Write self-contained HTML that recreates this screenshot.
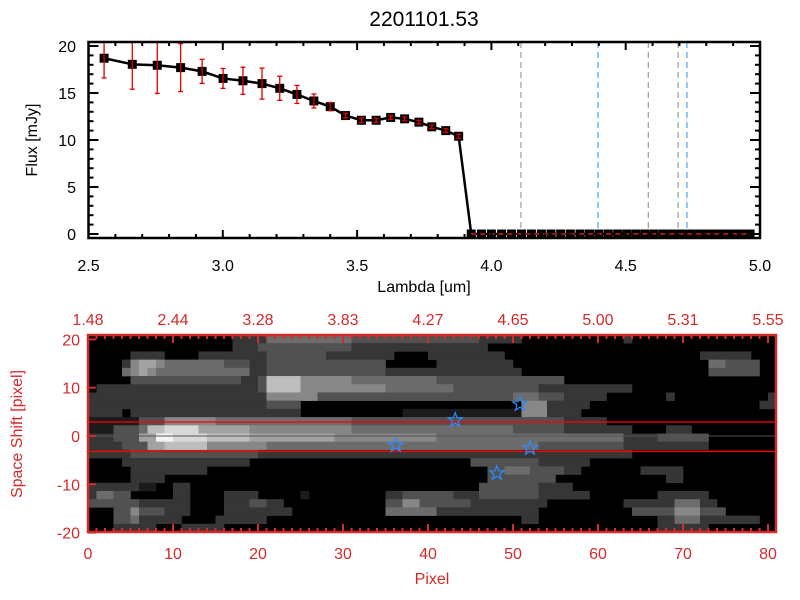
<!DOCTYPE html>
<html><head><meta charset="utf-8"><style>
html,body{margin:0;padding:0;background:#fff;}
svg{display:block;font-family:"Liberation Sans",sans-serif;}
</style></head><body>
<svg id="chart" width="800" height="600" viewBox="0 0 800 600" xmlns="http://www.w3.org/2000/svg">
<rect x="0" y="0" width="800" height="600" fill="#fff"/>
<text x="424" y="26" font-size="21" text-anchor="middle" fill="#000">2201101.53</text>
<g id="topplot"></g>
<g id="botplot"></g>
</svg>
<script>
// ---- top spectrum data ----
const lambdaPts = [2.558,2.663,2.756,2.843,2.923,3.001,3.075,3.146,3.212,3.276,3.339,3.400,3.457,3.516,3.571,3.625,3.677,3.730,3.778,3.830,3.878];
const fluxPts = [18.7,18.05,17.95,17.7,17.3,16.55,16.3,16.0,15.5,14.85,14.15,13.55,12.6,12.1,12.1,12.4,12.25,11.9,11.4,11.0,10.4];
const errPts = [2.1,2.65,3.0,2.55,1.28,1.06,1.44,1.65,1.28,0.96,0.74,0.44,0.25,0.25,0.22,0.2,0.2,0.2,0.2,0.2,0.2];
const lambdaZero = [3.925,3.963,4.000,4.038,4.075,4.112,4.149,4.186,4.222,4.258,4.294,4.330,4.365,4.400,4.435,4.470,4.504,4.538,4.572,4.606,4.640,4.673,4.706,4.739,4.772,4.804,4.836,4.868,4.900,4.932,4.963];
const greyLines = [4.11,4.584,4.695];
const blueLines = [4.397,4.728];
const topXTicks = [2.5,3.0,3.5,4.0,4.5,5.0];
const topYTicks = [0,5,10,15,20];

// ---- bottom image data ----
const topAxisLabels = ["1.48","2.44","3.28","3.83","4.27","4.65","5.00","5.31","5.55"];
const pixTicks = [0,10,20,30,40,50,60,70,80];
const shiftTicks = [20,10,0,-10,-20];
const starX = [43.2,36.2,50.8,52.0,48.1];
const starY = [3.3,-1.9,6.6,-2.5,-7.7];
const redLinesY = [2.9,-3.2];
const imageRows = [
"0:17,2:4,4:10,3:15,2:5,0:12,2:1,0:17",
"0:17,2:3,3:11,2:16,0:34",
"0:5,2:4,0:4,2:8,3:7,2:8,0:4,2:9,0:23,2:6,0:3",
"0:4,2:1,5:1,6:2,5:1,4:7,3:3,2:2,3:14,0:6,2:9,0:23,4:2,3:4,0:2",
"0:4,4:1,5:1,6:1,5:1,4:11,2:2,3:14,2:16,0:22,3:6,0:2",
"0:5,3:13,2:2,3:1,7:4,5:6,4:10,3:15,0:25",
"0:1,2:19,3:1,7:4,5:10,4:8,3:10,2:11,0:17",
"2:21,5:6,3:23,4:3,3:3,2:5,0:7,2:1,0:11,2:1",
"2:21,3:4,0:26,5:3,2:5,0:20,2:2",
"2:4,0:1,2:20,0:12,1:14,5:3,2:4,0:23",
"1:6,3:3,5:6,4:16,3:25,2:5,0:20",
"1:3,3:3,4:1,7:2,8:4,6:6,5:12,4:19,3:6,2:8,0:4,2:3,0:10",
"2:3,3:3,6:2,9:2,8:4,7:5,6:10,5:12,4:22,2:4,3:6,0:8",
"2:4,3:3,6:2,7:5,5:7,4:32,3:10,2:10,0:8",
"2:5,3:15,2:44,0:17",
"0:4,2:15,0:26,3:8,2:6,0:22",
"0:5,2:9,0:33,3:2,4:3,3:4,2:2,0:7,2:5,0:11",
"0:5,2:4,0:38,3:8,0:13,2:2,0:11",
"2:6,1:2,0:2,2:2,0:34,3:7,2:4,0:24",
"2:1,4:2,3:2,0:5,2:2,0:4,2:4,0:5,1:1,0:9,2:2,3:6,2:3,3:7,2:6,0:8,2:6,0:8",
"3:6,2:6,0:4,2:3,3:2,2:2,0:12,3:2,5:2,3:6,2:9,0:9,2:6,4:3,2:2,0:7",
"0:3,3:2,5:1,3:3,2:3,0:4,2:8,0:11,4:6,2:12,0:11,3:5,5:3,3:3,0:6",
"0:3,3:2,4:1,2:5,0:4,2:6,0:30,2:2,0:14,2:2,4:3,2:7,0:2",
"0:3,2:5,0:3,2:5,0:51,2:6,0:8"
];

const NS="http://www.w3.org/2000/svg";
function mk(parent, tag, attrs){const e=document.createElementNS(NS,tag);for(const k in attrs)e.setAttribute(k,attrs[k]);parent.appendChild(e);return e;}

// ---------- TOP PLOT ----------
const T={x0:88.5,x1:760,y0:238,y1:42};
const tx=l=>T.x0+(l-2.5)/2.5*(T.x1-T.x0);
const ty=f=>234-f*9.4;
const topG=document.getElementById('topplot');



greyLines.forEach(l=>{const e=mk(topG,'line',{x1:tx(l),x2:tx(l),y1:T.y1,y2:T.y0,stroke:'#888',"stroke-width":1,"stroke-dasharray":"6,4"});

});
blueLines.forEach(l=>{const e=mk(topG,'line',{x1:tx(l),x2:tx(l),y1:T.y1,y2:T.y0,stroke:'#1e90ff',"stroke-width":1,"stroke-dasharray":"6,4"});

});

let pts=lambdaPts.map((l,i)=>tx(l)+','+ty(fluxPts[i]));
lambdaZero.forEach(l=>pts.push(tx(l)+','+ty(0)));
const pl=mk(topG,'polyline',{points:pts.join(' '),fill:'none',stroke:'#000',"stroke-width":2.5});


lambdaPts.forEach((l,i)=>{const r=mk(topG,'rect',{x:tx(l)-4.5,y:ty(fluxPts[i])-4.5,width:9,height:9,fill:'#000'});

});
lambdaZero.forEach(l=>{const r=mk(topG,'rect',{x:tx(l)-4.5,y:ty(0)-4.5,width:9,height:9,fill:'#000'});

});
lambdaPts.forEach((l,i)=>{const x=tx(l),a=Math.max(ty(fluxPts[i]+errPts[i]),T.y1),b=ty(fluxPts[i]-errPts[i]);
const g=mk(topG,'g',{stroke:'#e00000',"stroke-width":1.3});


mk(g,'line',{x1:x,x2:x,y1:a,y2:b});
if(ty(fluxPts[i]+errPts[i])>T.y1)mk(g,'line',{x1:x-2.5,x2:x+2.5,y1:a,y2:a});
mk(g,'line',{x1:x-2.5,x2:x+2.5,y1:b,y2:b});});
const zl=mk(topG,'line',{x1:tx(lambdaZero[0]),x2:T.x1,y1:ty(0),y2:ty(0),stroke:'#ff2020',"stroke-width":1.2,"stroke-dasharray":"5,4"});



const fr=mk(topG,'rect',{x:T.x0,y:T.y1,width:T.x1-T.x0,height:T.y0-T.y1,fill:'none',stroke:'#000',"stroke-width":2.5});


for(let v=25;v<=50;v++){const l=v/10,x=tx(l),len=(v%5===0)?8:4;
mk(topG,'line',{x1:x,x2:x,y1:T.y0,y2:T.y0-len,stroke:'#000',"stroke-width":2});
mk(topG,'line',{x1:x,x2:x,y1:T.y1,y2:T.y1+len,stroke:'#000',"stroke-width":2});}
for(let v=0;v<=20;v++){const y=ty(v),len=(v%5===0)?10:5;
mk(topG,'line',{x1:T.x0,x2:T.x0+len,y1:y,y2:y,stroke:'#000',"stroke-width":2});
mk(topG,'line',{x1:T.x1,x2:T.x1-len,y1:y,y2:y,stroke:'#000',"stroke-width":2});}
topXTicks.forEach(l=>{const t=mk(topG,'text',{x:tx(l),y:271,"font-size":16,"text-anchor":"middle",fill:'#000'});t.textContent=l.toFixed(1);

});
topYTicks.forEach(v=>{const t=mk(topG,'text',{x:76,y:ty(v)+6,"font-size":16,"text-anchor":"end",fill:'#000'});t.textContent=v;

});
let t1=mk(topG,'text',{x:424,y:292,"font-size":16,"text-anchor":"middle",fill:'#000'});t1.textContent='Lambda [um]';


let t2=mk(topG,'text',{x:0,y:0,"font-size":16,"text-anchor":"middle",fill:'#000',transform:'translate(37,140) rotate(-90)'});t2.textContent='Flux [mJy]';



// ---------- BOTTOM PLOT ----------
const B={x0:88,x1:776,y0:532,y1:335};
const bx=p=>B.x0+p*8.5;
const by=s=>436-s*4.83;
const RED='#d42a2a';
const botG=document.getElementById('botplot');


mk(botG,'rect',{x:B.x0,y:B.y1,width:B.x1-B.x0,height:B.y0-B.y1,fill:'#000'});
const nRows=imageRows.length,rowH=(B.y0-B.y1)/nRows;
imageRows.forEach((row,r)=>{let c=0;row.split(',').forEach(seg=>{const [v,n]=seg.split(':').map(Number);
if(v>0){const g=Math.round(v*27);const e=mk(botG,'rect',{x:bx(c),y:B.y1+r*rowH,width:n*8.5+0.3,height:rowH+0.3,fill:`rgb(${g},${g},${g})`});

}
c+=n;});});
const zline=mk(botG,'line',{x1:B.x0,x2:B.x1,y1:by(0),y2:by(0),stroke:'#555',"stroke-width":1});


redLinesY.forEach(s=>{const e=mk(botG,'line',{x1:B.x0,x2:B.x1,y1:by(s),y2:by(s),stroke:'#ff0000',"stroke-width":1.3});

});
starX.forEach((p,i)=>{const cx=bx(p),cy=by(starY[i]);let d='';for(let k=0;k<10;k++){const a=-Math.PI/2+k*Math.PI/5,r=k%2?3:7.5;d+=(k?'L':'M')+(cx+r*Math.cos(a)).toFixed(1)+','+(cy+r*Math.sin(a)).toFixed(1);}
const s=mk(botG,'path',{d:d+'Z',fill:'none',stroke:'#2a8cff',"stroke-width":1.2});

});
const bf=mk(botG,'rect',{x:B.x0,y:B.y1,width:B.x1-B.x0,height:B.y0-B.y1,fill:'none',stroke:RED,"stroke-width":2.5});


for(let p=0;p<=80;p++){const x=bx(p),len=(p%10===0)?8:4;
mk(botG,'line',{x1:x,x2:x,y1:B.y0,y2:B.y0-len,stroke:RED,"stroke-width":2});
mk(botG,'line',{x1:x,x2:x,y1:B.y1,y2:B.y1+len,stroke:RED,"stroke-width":2});}
shiftTicks.forEach(s=>{mk(botG,'line',{x1:B.x0,x2:B.x0+8,y1:by(s),y2:by(s),stroke:RED,"stroke-width":2});});
pixTicks.forEach((p,i)=>{const t=mk(botG,'text',{x:bx(p),y:559,"font-size":16,"text-anchor":"middle",fill:RED});t.textContent=p;


const u=mk(botG,'text',{x:bx(p),y:325,"font-size":16,"text-anchor":"middle",fill:RED});u.textContent=topAxisLabels[i];

});
shiftTicks.forEach(s=>{const t=mk(botG,'text',{x:80,y:by(s)+6,"font-size":16,"text-anchor":"end",fill:RED});t.textContent=s;

});
let t3=mk(botG,'text',{x:432,y:584,"font-size":16,"text-anchor":"middle",fill:RED});t3.textContent='Pixel';


let t4=mk(botG,'text',{x:0,y:0,"font-size":16,"text-anchor":"middle",fill:RED,transform:'translate(22,434) rotate(-90)'});t4.textContent='Space Shift [pixel]';


</script>
</body></html>
